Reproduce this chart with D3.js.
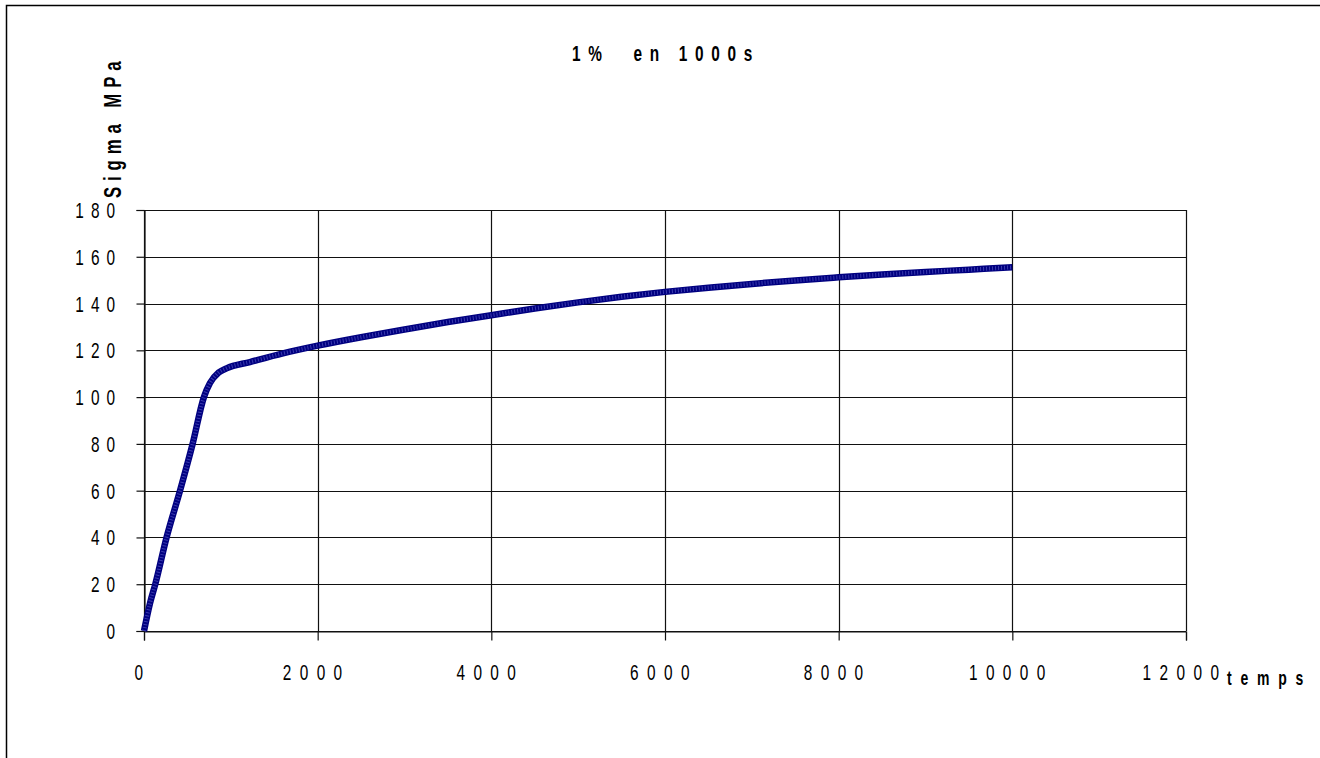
<!DOCTYPE html>
<html>
<head>
<meta charset="utf-8">
<script src="https://cdn.jsdelivr.net/npm/d3@7"></script>
<style>
  body { margin: 0; background: #fff; }
  svg { display: block; }
  text { font-family: "Liberation Sans", Arial, sans-serif; fill: #000; }
</style>
</head>
<body>
<div id="chart"></div>
<script>
// values (temps in s, sigma in MPa)
var temps = [0, 70, 130, 260, 415, 560, 690, 760, 860, 950, 1220, 1600, 2000, 2500, 3000, 3500, 4000, 4500, 5000,
             5500, 6000, 6500, 7000, 7500, 8000, 8500, 9000, 9500, 10000];
var sigma = [0, 12, 20, 40, 60, 80, 100, 106, 110.5, 112.3, 115, 118.7, 122, 125.6, 128.9, 132.1, 135, 137.9, 140.5,
             142.9, 145, 146.8, 148.4, 149.9, 151.2, 152.4, 153.5, 154.5, 155.5];
var xTicks = [0, 2000, 4000, 6000, 8000, 10000, 12000];
var yTicks = [0, 20, 40, 60, 80, 100, 120, 140, 160, 180];
var title = "1%  en 1000s";
var xTitle = "temps";
var yTitle = "Sigma MPa";

var W = 1320, H = 758;
var plot = {left: 144, right: 1186, top: 210, bottom: 631};
var SQUEEZE = 0.7;   // the original font is a tall, narrow one

var svg = d3.select("#chart")
            .append("svg")
            .attr("width", W)
            .attr("height", H);

// text squeezed horizontally, spaced out
addLabel = function (parent, px, py, str, o)
{
   var g = parent.append("g")
                 .attr("transform", "translate(" + px + "," + py + ")" + (o.rotate ? " rotate(" + o.rotate + ")" : "") +
                                    " scale(" + SQUEEZE + ",1)");
   g.append("text")
    .attr("text-anchor", o.anchor || "start")
    .style("font-size", o.size + "px")
    .style("font-weight", o.bold ? "bold" : "normal")
    .style("letter-spacing", o.ls + "px")
    .style("white-space", "pre")
    .text(str);
   return g;
}

// outer frame (right and bottom edges fall outside the window)
svg.append("rect")
   .attr("x", 6.5).attr("y", 5.5)
   .attr("width", 1400).attr("height", 800)
   .attr("fill", "none")
   .attr("stroke", "#000")
   .attr("stroke-width", 1.5);

var x = d3.scaleLinear().domain([0, 12000]).range([plot.left, plot.right]);
var y = d3.scaleLinear().domain([0, 180]).range([plot.bottom, plot.top]);

// grid
svg.append("g")
   .selectAll("line")
   .data(yTicks)
   .enter()
   .append("line")
   .attr("x1", plot.left).attr("x2", plot.right)
   .attr("y1", function (d) { return Math.round(y(d)) + 0.5; })
   .attr("y2", function (d) { return Math.round(y(d)) + 0.5; })
   .attr("stroke", "#111").attr("stroke-width", 1.2);

svg.append("g")
   .selectAll("line")
   .data(xTicks)
   .enter()
   .append("line")
   .attr("y1", plot.top).attr("y2", plot.bottom)
   .attr("x1", function (d) { return Math.round(x(d)) + 0.5; })
   .attr("x2", function (d) { return Math.round(x(d)) + 0.5; })
   .attr("stroke", "#111").attr("stroke-width", 1.2);

// axes: tick marks only, labels drawn below
var xAxis = svg.append("g")
   .attr("transform", "translate(0," + (Math.round(y(0)) + 0.5) + ")")
   .call(d3.axisBottom(x).tickValues(xTicks).tickSize(9).tickFormat(""));
var yAxis = svg.append("g")
   .attr("transform", "translate(" + (Math.round(x(0)) + 0.5) + ",0)")
   .call(d3.axisLeft(y).tickValues(yTicks).tickSize(8).tickFormat(""));
[xAxis, yAxis].forEach(function (a) {
    a.select(".domain").attr("stroke", "#111").attr("stroke-width", 1.2);
    a.selectAll(".tick line").attr("stroke", "#111").attr("stroke-width", 1.2);
});

var xLab = svg.append("g");
xTicks.forEach(function (d) {
    addLabel(xLab, x(d) - 1, 680, d, {size: 22, ls: 12, anchor: "middle"});
});

var yLab = svg.append("g");
yTicks.forEach(function (d) {
    addLabel(yLab, 122, y(d) + 8, d, {size: 22, ls: 10, anchor: "end"});
});

// titles
addLabel(svg, 666, 61, title, {size: 22, ls: 11, bold: true, anchor: "middle"});
addLabel(svg, 1227, 685, xTitle, {size: 20, ls: 12.5, bold: true});
addLabel(svg, 121, 198, yTitle, {size: 24, ls: 8.4, bold: true, rotate: -90});

// curve
var line = d3.line()
             .x(function (d, i) { return x(temps[i]); })
             .y(function (d) { return y(d); })
             .curve(d3.curveMonotoneX);

svg.append("path")
   .datum(sigma)
   .attr("d", line)
   .attr("fill", "none")
   .attr("stroke", "#000080")
   .attr("stroke-width", 6.5)
   .attr("stroke-linejoin", "round");

// marker texture along the line
svg.append("path")
   .datum(sigma)
   .attr("d", line)
   .attr("fill", "none")
   .attr("stroke", "#3a3aae")
   .attr("stroke-width", 4)
   .attr("stroke-dasharray", "1,2");
</script>
</body>
</html>
